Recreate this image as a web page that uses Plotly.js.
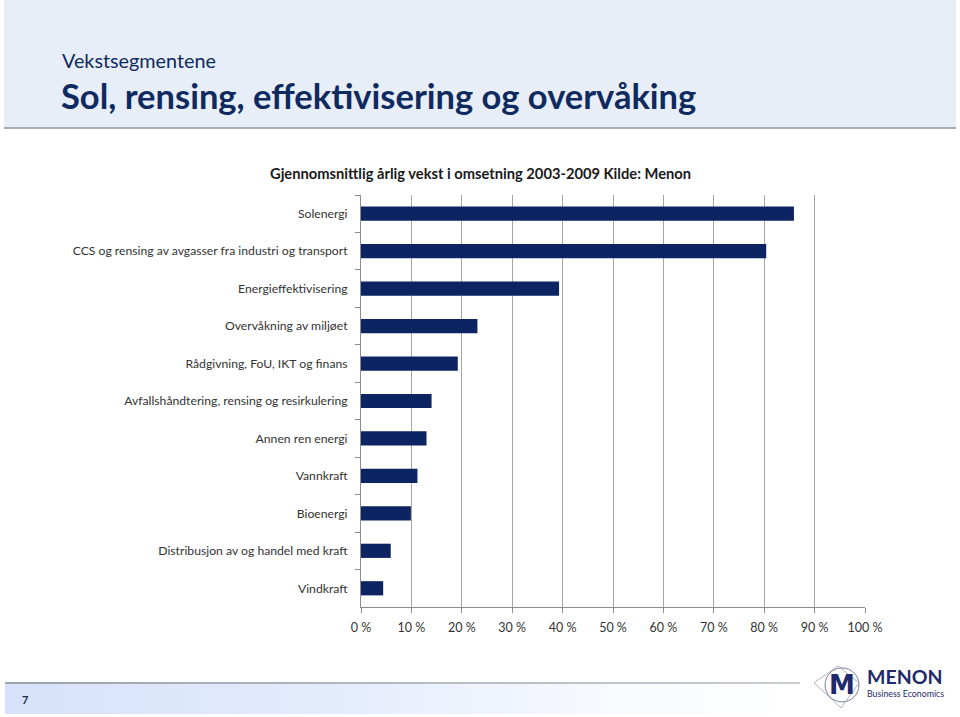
<!DOCTYPE html>
<html>
<head>
<meta charset="utf-8">
<script src="https://cdn.plot.ly/plotly-3.0.1.min.js"></script>
<style>
  html, body { margin: 0; padding: 0; background: #ffffff; }
  #wrap { position: relative; width: 960px; height: 717px; overflow: hidden; }
  #hdr { position: absolute; left: 4px; top: 0; width: 952px; height: 127px; background: #e8eef8; border-bottom: 2px solid #a9adb3; }
  #ftrline { position: absolute; left: 5px; top: 682px; width: 795px; height: 2px; background: linear-gradient(to right, #9aa3ae, #b8bec6 60%, #c8ccd2); }
  #ftr { position: absolute; left: 5px; top: 684px; width: 795px; height: 30px; background: linear-gradient(to right, #d6e2fb 0%, #e3ebfc 40%, #f7f9fe 75%, #ffffff 100%); }
  #chart { position: absolute; left: 0; top: 0; width: 960px; height: 717px; }
</style>
</head>
<body>
<div id="wrap">
  <div id="hdr"></div>
  <div id="ftrline"></div>
  <div id="ftr"></div>
  <div id="chart"></div>
</div>
<script>
const categories = [
  "Solenergi",
  "CCS og rensing av avgasser fra industri og transport",
  "Energieffektivisering",
  "Overvåkning av miljøet",
  "Rådgivning, FoU, IKT og finans",
  "Avfallshåndtering, rensing og resirkulering",
  "Annen ren energi",
  "Vannkraft",
  "Bioenergi",
  "Distribusjon av og handel med kraft",
  "Vindkraft"
];
const growthPct = [85.9, 80.4, 39.3, 23.1, 19.2, 14.0, 13.0, 11.2, 9.9, 5.9, 4.4];
const xTickVals = [0, 10, 20, 30, 40, 50, 60, 70, 80, 90, 100];
const xTickText = ["0 %", "10 %", "20 %", "30 %", "40 %", "50 %", "60 %", "70 %", "80 %", "90 %", "100 %"];

const navy = "#0c2461";
const textFont = "Lato, 'Open Sans', sans-serif";

const trace = {
  type: "bar",
  orientation: "h",
  y: categories,
  x: growthPct,
  marker: { color: navy, line: { width: 0 } },
  hoverinfo: "x+y"
};

const layout = {
  width: 960,
  height: 717,
  paper_bgcolor: "rgba(0,0,0,0)",
  plot_bgcolor: "rgba(0,0,0,0)",
  margin: { l: 360.5, r: 95, t: 194.5, b: 110, pad: 0 },
  bargap: 0.62,
  showlegend: false,
  font: { family: textFont, color: "#333333", size: 12 },
  xaxis: {
    range: [0, 100],
    tickvals: xTickVals,
    ticktext: xTickText,
    showgrid: true,
    gridcolor: "#a6a6a6",
    gridwidth: 1,
    showline: true,
    linecolor: "#8c8c8c",
    linewidth: 1,
    ticks: "outside",
    ticklen: 5,
    tickcolor: "#8c8c8c",
    tickfont: { family: textFont, size: 12.5, color: "#333333" },
    ticklabelstandoff: 4,
    zeroline: false,
    fixedrange: true
  },
  yaxis: {
    type: "category",
    autorange: "reversed",
    showline: true,
    linecolor: "#8c8c8c",
    linewidth: 1,
    ticks: "outside",
    ticklen: 5,
    tickcolor: "#8c8c8c",
    tickson: "boundaries",
    showgrid: false,
    tickfont: { family: textFont, size: 12.2, color: "#333333" },
    ticklabelstandoff: 10,
    fixedrange: true
  },
  annotations: [
    { text: "Vekstsegmentene", xref: "paper", yref: "paper", xanchor: "left", yanchor: "middle",
      showarrow: false, font: { family: textFont, size: 19.8, color: "#0f2a5e" } },
    { text: "<b>Sol, rensing, effektivisering og overvåking</b>", xref: "paper", yref: "paper", xanchor: "left", yanchor: "middle",
      showarrow: false, font: { family: textFont, size: 34.5, color: "#0f2a5e" } },
    { text: "<b>Gjennomsnittlig årlig vekst i omsetning 2003-2009 Kilde: Menon</b>", xref: "paper", yref: "paper", xanchor: "center", yanchor: "middle",
      showarrow: false, font: { family: textFont, size: 14.7, color: "#1a1a1a" } },
    { text: "<b>7</b>", xref: "paper", yref: "paper", xanchor: "center", yanchor: "middle",
      showarrow: false, font: { family: textFont, size: 11, color: "#1a2a4a" } },
    { text: "<b>MENON</b>", xref: "paper", yref: "paper", xanchor: "left", yanchor: "middle",
      showarrow: false, font: { family: textFont, size: 19.5, color: "#1f2a6b" } },
    { text: "Business Economics", xref: "paper", yref: "paper", xanchor: "left", yanchor: "middle",
      showarrow: false, font: { family: textFont, size: 8.8, color: "#1f2a6b" } },
    { text: "<b>M</b>", xref: "paper", yref: "paper", xanchor: "center", yanchor: "middle",
      showarrow: false, font: { family: "'DejaVu Sans', sans-serif", size: 26, color: "#1f2a6b" } }
  ],
  shapes: [
    { type: "circle", xref: "paper", yref: "paper",
      line: { color: "#7a7f95", width: 1 }, fillcolor: "rgba(0,0,0,0)" },
    { type: "path", xref: "paper", yref: "paper",
      line: { color: "#9a9fb0", width: 0.8 }, fillcolor: "rgba(0,0,0,0)" }
  ]
};

// place header/footer pieces via pixel conversion
(function () {
  const L = 360.5, W = 960 - 360.5 - 95, T = 194.5, H = 717 - 194.5 - 110;
  const px = x => (x - L) / W;
  const py = y => (T + H - y) / H;
  const a = layout.annotations;
  a[0].x = px(59); a[0].y = py(59);
  a[1].x = px(58); a[1].y = py(95);
  a[2].x = px(480); a[2].y = py(172);
  a[3].x = px(24); a[3].y = py(700);
  a[4].x = px(865); a[4].y = py(677);
  a[5].x = px(865); a[5].y = py(694);
  a[6].x = px(842); a[6].y = py(685);
  const s = layout.shapes;
  s[0].x0 = px(825); s[0].x1 = px(859); s[0].y0 = py(702); s[0].y1 = py(668);
  s[1].path = "M " + px(814) + "," + py(683) + " L " + px(838) + "," + py(666) + " L " + px(859) + "," + py(683) + " L " + px(841) + "," + py(708) + " Z";
})();

Plotly.newPlot("chart", [trace], layout, { displayModeBar: false, staticPlot: true });
</script>
</body>
</html>
